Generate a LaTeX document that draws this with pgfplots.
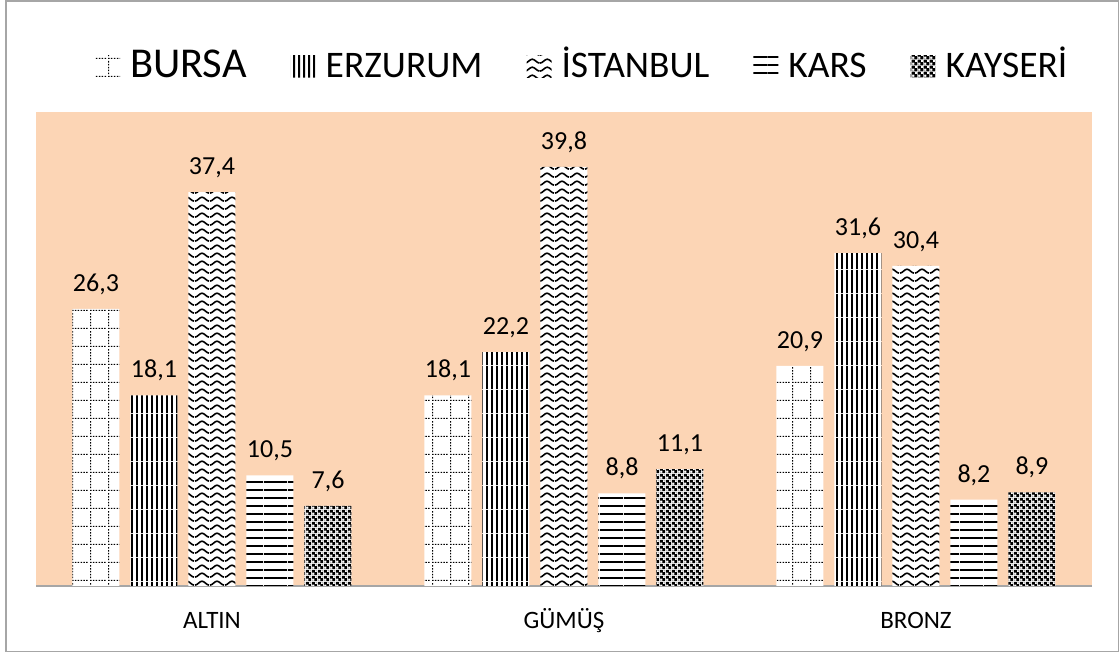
\documentclass[border=0pt]{standalone}
\usepackage{fontspec}
\setmainfont{Carlito}
\usepackage{pgfplots}
\pgfplotsset{compat=1.18}
\usetikzlibrary{patterns}
\definecolor{peach}{HTML}{FCD5B5}
\definecolor{bordergray}{HTML}{A6A6A6}

% dotted grid
\pgfdeclarepatternformonly{dotgrid}{\pgfqpoint{0pt}{0pt}}{\pgfqpoint{18pt}{18pt}}{\pgfqpoint{18pt}{18pt}}{%
\pgfpathrectangle{\pgfqpoint{0pt}{0pt}}{\pgfqpoint{1.6pt}{1.2pt}}%
\pgfpathrectangle{\pgfqpoint{3pt}{0pt}}{\pgfqpoint{1.6pt}{1.2pt}}%
\pgfpathrectangle{\pgfqpoint{6pt}{0pt}}{\pgfqpoint{1.6pt}{1.2pt}}%
\pgfpathrectangle{\pgfqpoint{9pt}{0pt}}{\pgfqpoint{1.6pt}{1.2pt}}%
\pgfpathrectangle{\pgfqpoint{12pt}{0pt}}{\pgfqpoint{1.6pt}{1.2pt}}%
\pgfpathrectangle{\pgfqpoint{15pt}{0pt}}{\pgfqpoint{1.6pt}{1.2pt}}%
\pgfpathrectangle{\pgfqpoint{0pt}{3pt}}{\pgfqpoint{1.2pt}{1.6pt}}%
\pgfpathrectangle{\pgfqpoint{0pt}{6pt}}{\pgfqpoint{1.2pt}{1.6pt}}%
\pgfpathrectangle{\pgfqpoint{0pt}{9pt}}{\pgfqpoint{1.2pt}{1.6pt}}%
\pgfpathrectangle{\pgfqpoint{0pt}{12pt}}{\pgfqpoint{1.2pt}{1.6pt}}%
\pgfpathrectangle{\pgfqpoint{0pt}{15pt}}{\pgfqpoint{1.2pt}{1.6pt}}%
\pgfusepath{fill}}

% vertical lines
\pgfdeclarepatternformonly{vlines}{\pgfqpoint{0pt}{0pt}}{\pgfqpoint{4.5pt}{24pt}}{\pgfqpoint{4.5pt}{24pt}}{%
\pgfpathrectangle{\pgfqpoint{0pt}{0pt}}{\pgfqpoint{2.2pt}{24pt}}\pgfusepath{fill}}

% horizontal lines
\pgfdeclarepatternformonly{hlines}{\pgfqpoint{0pt}{0pt}}{\pgfqpoint{24pt}{8.4pt}}{\pgfqpoint{24pt}{8.4pt}}{%
\pgfpathrectangle{\pgfqpoint{0pt}{0pt}}{\pgfqpoint{24pt}{2pt}}\pgfusepath{fill}}

% wave
\pgfdeclarepatternformonly{wave}{\pgfqpoint{0pt}{0pt}}{\pgfqpoint{15pt}{8.3pt}}{\pgfqpoint{15pt}{8.3pt}}{%
\pgfsetlinewidth{1.7pt}%
\pgfpathmoveto{\pgfqpoint{0pt}{2pt}}%
\pgfpathcurveto{\pgfqpoint{2.5pt}{2pt}}{\pgfqpoint{5pt}{6.3pt}}{\pgfqpoint{7.5pt}{6.3pt}}%
\pgfpathcurveto{\pgfqpoint{10pt}{6.3pt}}{\pgfqpoint{12.5pt}{2pt}}{\pgfqpoint{15pt}{2pt}}%
\pgfusepath{stroke}}

% dense checker (black with white holes)
\pgfdeclarepatternformonly{dchecker}{\pgfqpoint{0pt}{0pt}}{\pgfqpoint{6pt}{6pt}}{\pgfqpoint{6pt}{6pt}}{%
\pgfseteorule
\pgfpathrectangle{\pgfqpoint{0pt}{0pt}}{\pgfqpoint{6pt}{6pt}}%
\pgfpathrectangle{\pgfqpoint{0.25pt}{0.25pt}}{\pgfqpoint{2.5pt}{2.5pt}}%
\pgfpathrectangle{\pgfqpoint{3.25pt}{3.25pt}}{\pgfqpoint{2.5pt}{2.5pt}}%
\pgfusepath{fill}}

\pgfplotsset{
  mylegend/.style={legend image code/.code={\fill[##1] (0pt,0pt) rectangle (25pt,22pt);}},
}

\begin{document}
\begin{tikzpicture}
\useasboundingbox (0pt,0pt) rectangle (1120pt,653pt);
\draw[bordergray, line width=1.5pt] (6pt,1.5pt) rectangle (1118.5pt,652pt);
\begin{axis}[
  at={(36pt,67pt)}, anchor=south west,
  scale only axis,
  width=1056pt, height=474pt,
  xmin=-0.5, xmax=2.5, ymin=0, ymax=45,
  ybar=11pt, bar width=47pt,
  axis background/.style={fill=peach},
  axis x line*=bottom,
  hide y axis,
  x axis line style={draw=bordergray, line width=2pt},
  xtick={0,1,2},
  xticklabels={ALTIN,GÜMÜŞ,BRONZ},
  major tick length=0pt,
  xticklabel style={font=\fontsize{25}{28}\selectfont, inner sep=0pt, anchor=north, text height=17pt, text depth=5pt, yshift=-25pt},
  /pgf/number format/assume math mode=true,
  nodes near coords={\pgfmathprintnumber[assume math mode=true,use comma,fixed,fixed zerofill,precision=1]{\pgfplotspointmeta}},
  every node near coord/.append style={font=\fontsize{26}{29}\selectfont, inner sep=0pt, anchor=south, yshift=14pt, color=black},
  clip=false,
  legend columns=5,
  legend style={at={(axis description cs:0.0559,1.099)}, anchor=west, draw=none, fill=none,
    inner sep=0pt, outer sep=0pt,
    font=\fontsize{37.5}{41}\selectfont,
    nodes={inner sep=0pt, anchor=base, text height=25pt, text depth=0pt},
    /tikz/every odd column/.append style={column sep=10pt},
    /tikz/every even column/.append style={column sep=44pt}},
]
\addplot[draw=none, fill=white, postaction={pattern=dotgrid}, mylegend] coordinates {(0,26.3) (1,18.1) (2,20.9)};
\addplot[draw=none, fill=white, postaction={pattern=vlines}, mylegend] coordinates {(0,18.1) (1,22.2) (2,31.6)};
\addplot[draw=none, fill=white, postaction={pattern=wave}, mylegend] coordinates {(0,37.4) (1,39.8) (2,30.4)};
\addplot[draw=none, fill=white, postaction={pattern=hlines}, mylegend] coordinates {(0,10.5) (1,8.8) (2,8.2)};
\addplot[draw=none, fill=white, postaction={pattern=dchecker}, mylegend] coordinates {(0,7.6) (1,11.1) (2,8.9)};
\legend{{\fontsize{42.5}{46}\selectfont BURSA},ERZURUM,İSTANBUL,KARS,KAYSERİ}
\end{axis}
\end{tikzpicture}
\end{document}
